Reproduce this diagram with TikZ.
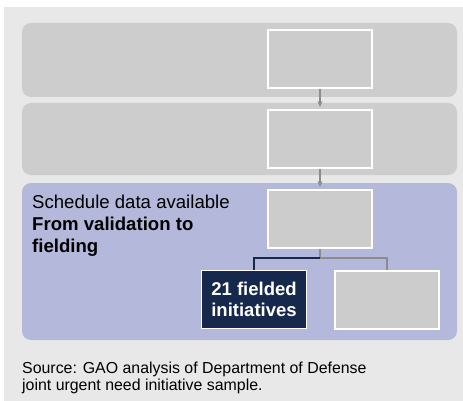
\documentclass[tikz,border=0pt]{standalone}
\usepackage{fontspec}
\setmainfont{Liberation Sans}
\usetikzlibrary{arrows.meta,calc}
\definecolor{bgc}{HTML}{E8E8E8}
\definecolor{panelg}{HTML}{CDCDCD}
\definecolor{boxg}{HTML}{CCCCCC}
\definecolor{lav}{HTML}{B4B9DB}
\definecolor{navy}{HTML}{17284D}
\definecolor{conn}{HTML}{8C8C8C}
\begin{document}
\begin{tikzpicture}[x=1pt,y=-1pt,
  panel/.style={rounded corners=9pt},
  gbox/.style={draw=white,line width=2pt,fill=boxg,minimum width=104pt,minimum height=58pt,inner sep=0pt},
  arr/.style={draw=conn,line width=1.4pt,-{Stealth[length=6pt,width=5pt]},shorten >=2pt},
  lbl/.style={anchor=base west,inner sep=0pt,font=\fontsize{18.6}{22}\selectfont},
  src/.style={anchor=base west,inner sep=0pt,font=\fontsize{15.9}{19}\selectfont}]
\useasboundingbox (0,0) rectangle (463,401);
\fill[white] (0,0) rectangle (463,401);
\fill[bgc] (4,7) rectangle (463,401);
% panels
\fill[panelg,panel] (22,23) rectangle (457,97);
\fill[panelg,panel] (22,103) rectangle (457,175);
\fill[lav,panel] (22,183) rectangle (457,340);
% boxes
\node[gbox] (b1) at (320,59) {};
\node[gbox] (b2) at (320,139) {};
\node[gbox] (b3) at (320,219) {};
\node[draw=white,line width=1pt,fill=navy,minimum width=105pt,minimum height=58pt,inner sep=0pt,
  text=white,align=center,font=\bfseries\fontsize{18.5}{20.5}\selectfont] (d) at (254,299.5) {21 fielded\\initiatives};
\node[gbox] (r) at (386.5,299.5) {};
% arrows
\draw[arr] (b1.south) -- (b2.north);
\draw[arr] (b2.south) -- (b3.north);
% tree connector
\coordinate (j) at ($(b3.south)+(0,9)$);
\draw[conn,line width=2pt] (b3.south) -- (j) -| (r.north);
\draw[navy,line width=2pt] (j) -| (d.north);
% texts
\node[lbl] (t1) at (32,208) {Schedule data available};
\node[lbl,font=\bfseries\fontsize{18.6}{22}\selectfont] (t2) at (32,230) {From validation to};
\node[lbl,font=\bfseries\fontsize{18.6}{22}\selectfont] (t3) at (32,252) {fielding};
\node[src] (s1) at (22,373) {Source: GAO analysis of Department of Defense};
\node[src] (s2) at (22,390) {joint urgent need initiative sample.};
\end{tikzpicture}
\end{document}
